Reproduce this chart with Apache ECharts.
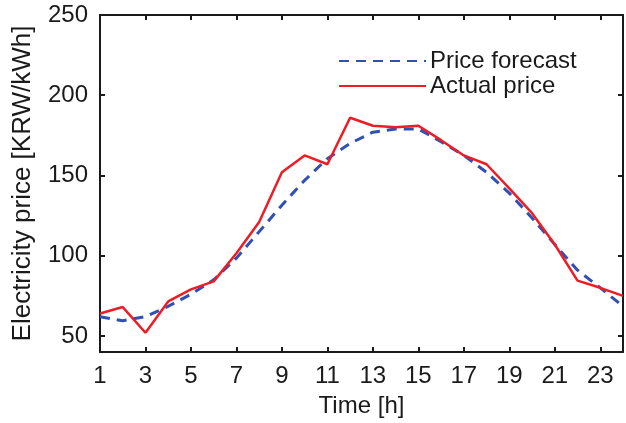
<!DOCTYPE html>
<html>
<head>
<meta charset="utf-8">
<script src="https://cdn.jsdelivr.net/npm/echarts@6/dist/echarts.min.js"></script>
<style>
  html, body { margin: 0; padding: 0; background: #fff; }
  #chart { width: 626px; height: 423px; }
</style>
</head>
<body>
<div id="chart"></div>
<script>
// hours of the day
const hours = ['1', '2', '3', '4', '5', '6', '7', '8', '9', '10', '11', '12',
  '13', '14', '15', '16', '17', '18', '19', '20', '21', '22', '23', '24']
// price forecast [KRW/kWh]
const forecast = [62, 59.5, 62, 68.5, 76, 85, 98.5, 115, 131.5, 147, 160.5, 170,
  177, 179, 179, 171, 162.5, 152, 139, 123.5, 107, 91, 80, 68.5]
// actual price [KRW/kWh]
const actual = [64, 68, 52, 71.5, 79, 84, 101.5, 121, 152, 162.5, 157, 186,
  181, 180, 181, 172, 162.5, 157, 142, 126.5, 107, 84.5, 80, 75]
const yTicks = [50, 100, 150, 200, 250]

const font = '"Liberation Sans", Arial, Helvetica, sans-serif'
const black = '#1a1a1a'

const chart = echarts.init(document.getElementById('chart'))

const xAxisBase = {
  type: 'category',
  data: hours,
  boundaryGap: false,
  axisLine: { lineStyle: { color: black, width: 2 } },
  axisTick: { inside: true, length: 5, interval: 1, lineStyle: { color: black, width: 2 } },
  splitLine: { show: false }
}

const yAxisBase = {
  type: 'value',
  min: 40,
  max: 250,
  axisLine: { show: true, lineStyle: { color: black, width: 2 } },
  axisTick: { show: true, inside: true, length: 5, customValues: yTicks, lineStyle: { color: black, width: 2 } },
  splitLine: { show: false }
}

chart.setOption({
  animation: false,
  backgroundColor: '#fff',
  textStyle: { fontFamily: font },
  grid: { left: 100, right: 3, top: 15, bottom: 70 },
  legend: {
    orient: 'vertical',
    left: 333,
    top: 44,
    itemWidth: 87,
    itemHeight: 14,
    itemGap: 1,
    itemStyle: { opacity: 0 },
    lineStyle: { opacity: 1 },
    textStyle: { fontSize: 24, color: black, fontFamily: font, padding: [0, 0, 0, -1] },
    data: ['Price forecast', 'Actual price']
  },
  xAxis: [
    {
      ...xAxisBase,
      position: 'bottom',
      name: 'Time [h]',
      nameLocation: 'middle',
      nameGap: 42,
      nameTextStyle: { fontSize: 24, color: black, fontFamily: font },
      axisLabel: { interval: 1, margin: 12, fontSize: 24, color: black, fontFamily: font }
    },
    {
      ...xAxisBase,
      position: 'top',
      axisLabel: { show: false }
    }
  ],
  yAxis: [
    {
      ...yAxisBase,
      position: 'left',
      name: 'Electricity price [KRW/kWh]',
      nameLocation: 'middle',
      nameRotate: 90,
      nameGap: 64,
      nameTextStyle: { fontSize: 26, color: black, fontFamily: font },
      axisLabel: { margin: 12, fontSize: 24, color: black, fontFamily: font, customValues: yTicks }
    },
    {
      ...yAxisBase,
      position: 'right',
      axisLabel: { show: false }
    }
  ],
  series: [
    {
      name: 'Price forecast',
      type: 'line',
      data: forecast,
      symbol: 'none',
      lineStyle: { color: '#3050b4', width: 3, type: [10, 7] },
      itemStyle: { color: '#3050b4' },
      z: 2
    },
    {
      name: 'Actual price',
      type: 'line',
      data: actual,
      symbol: 'none',
      lineStyle: { color: '#ee1c25', width: 2.5 },
      itemStyle: { color: '#ee1c25' },
      z: 3
    }
  ]
})

window.addEventListener('resize', () => chart.resize())
</script>
</body>
</html>
